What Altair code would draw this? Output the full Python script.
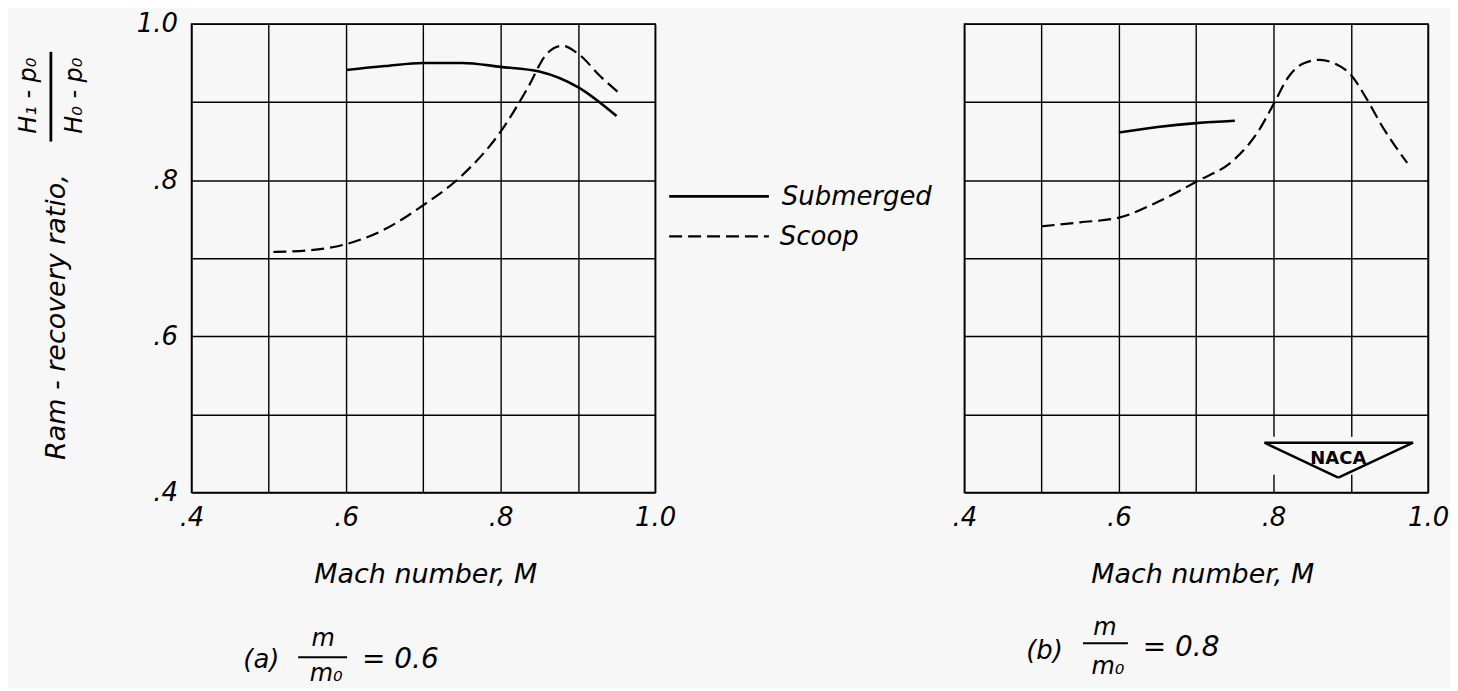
import altair as alt
import pandas as pd

FONT = "DejaVu Sans"
BG = "#f7f7f7"

# ---------------- data ----------------
series_names = ["Submerged", "Scoop"]
x_title = "Mach number, M"
y_title = "Ram - recovery  ratio,"
grid_values = [0.4, 0.5, 0.6, 0.7, 0.8, 0.9, 1.0]

# (a) m/m0 = 0.6
sub_a_mach = [0.60, 0.65, 0.70, 0.75, 0.80, 0.85, 0.90, 0.95]
sub_a_ratio = [0.941, 0.946, 0.950, 0.950, 0.945, 0.939, 0.919, 0.882]
scp_a_mach = [0.506, 0.55, 0.60, 0.65, 0.70, 0.75, 0.80, 0.835, 0.86, 0.88, 0.90, 0.93, 0.955]
scp_a_ratio = [0.708, 0.710, 0.718, 0.737, 0.768, 0.806, 0.862, 0.918, 0.962, 0.972, 0.962, 0.932, 0.910]

# (b) m/m0 = 0.8
sub_b_mach = [0.60, 0.65, 0.70, 0.75]
sub_b_ratio = [0.861, 0.868, 0.873, 0.876]
scp_b_mach = [0.50, 0.55, 0.60, 0.65, 0.70, 0.75, 0.78, 0.80, 0.82, 0.84, 0.86, 0.88, 0.90, 0.92, 0.94, 0.973]
scp_b_ratio = [0.741, 0.746, 0.752, 0.772, 0.798, 0.827, 0.862, 0.897, 0.933, 0.950, 0.954, 0.949, 0.935, 0.905, 0.870, 0.822]

PW, PH = 465, 470
DASH = [13, 6]

LABEL_EXPR = ("round(datum.value*10) % 2 == 0 ? "
              "replace(format(datum.value, '.1f'), '0.', '.') : ''")


def txt(text, x, y, size=26, angle=0, align="left", style="italic", weight="normal"):
    return alt.Chart(pd.DataFrame({"t": [text]})).mark_text(
        font=FONT, fontStyle=style, fontWeight=weight, fontSize=size,
        align=align, baseline="middle", angle=angle, color="black"
    ).encode(x=alt.value(x), y=alt.value(y), text="t:N")


def rule(x1, y1, x2, y2, width=2.0, dash=None, opacity=1.0):
    kw = dict(color="black", strokeWidth=width, strokeOpacity=opacity)
    if dash:
        kw["strokeDash"] = dash
    return alt.Chart(pd.DataFrame({"a": [0]})).mark_rule(**kw).encode(
        x=alt.value(x1), x2=alt.value(x2), y=alt.value(y1), y2=alt.value(y2))


def rect(x1, y1, x2, y2, color=BG):
    return alt.Chart(pd.DataFrame({"a": [0]})).mark_rect(color=color).encode(
        x=alt.value(x1), x2=alt.value(x2), y=alt.value(y1), y2=alt.value(y2))


def panel(sub_x, sub_y, scp_x, scp_y, show_y):
    xs = alt.Scale(domain=[0.4, 1.0], nice=False, zero=False)
    ys = alt.Scale(domain=[0.4, 1.0], nice=False, zero=False)
    xa = alt.Axis(values=grid_values, labelExpr=LABEL_EXPR, title=None,
                  labelPadding=12, labelFlush=False, labelOverlap=False,
                  labelBound=False)
    ya = alt.Axis(values=grid_values, labelExpr=LABEL_EXPR, title=None,
                  labelPadding=14, labels=show_y, labelFlush=False,
                  labelOverlap=False, labelBound=False)
    d_sub = pd.DataFrame({"mach": sub_x, "ratio": sub_y, "series": series_names[0]})
    d_scp = pd.DataFrame({"mach": scp_x, "ratio": scp_y, "series": series_names[1]})
    l_sub = alt.Chart(d_sub).mark_line(
        color="black", strokeWidth=2.6, interpolate="monotone"
    ).encode(x=alt.X("mach:Q", scale=xs, axis=xa), y=alt.Y("ratio:Q", scale=ys, axis=ya))
    l_scp = alt.Chart(d_scp).mark_line(
        color="black", strokeWidth=2.2, strokeDash=DASH, interpolate="monotone"
    ).encode(x=alt.X("mach:Q", scale=xs, axis=xa), y=alt.Y("ratio:Q", scale=ys, axis=ya))
    return [l_sub, l_scp]


# ---------------- left panel (a) ----------------
left_layers = panel(sub_a_mach, sub_a_ratio, scp_a_mach, scp_a_ratio, True)
left_layers += [
    # layout anchor (top-left corner of the figure)
    rule(-183, -14, -183, -14, width=0.5, opacity=0),
    # y-axis title with the fraction
    txt(y_title, -135, 294, size=27, angle=270, align="center"),
    txt("H₁ - p₀", -163, 72, size=24, angle=270, align="center"),
    rule(-141, 28, -141, 118, width=2.8),
    txt("H₀ - p₀", -117, 72, size=24, angle=270, align="center"),
    # x title
    txt(x_title, 235, 553, size=27, align="center"),
    # legend
    rule(479, 173, 579, 173, width=2.6),
    txt(series_names[0], 592, 174, size=26),
    rule(479, 213, 579, 213, width=2.2, dash=DASH),
    txt(series_names[1], 590, 214, size=26),
    # caption (a)
    txt("(a)", 52, 638, size=26),
    txt("m", 132, 617, size=24, align="center"),
    rule(107, 635, 156, 635, width=2),
    txt("m₀", 135, 652, size=24, align="center"),
    txt("= 0.6", 171, 638, size=28),
]
left = alt.layer(*left_layers).properties(width=PW, height=PH)

# ---------------- right panel (b) ----------------
right_layers = panel(sub_b_mach, sub_b_ratio, scp_b_mach, scp_b_ratio, False)
right_layers += [
    txt(x_title, 239, 553, size=27, align="center"),
    txt("(b)", 62, 629, size=26),
    txt("m", 141, 606, size=24, align="center"),
    rule(119, 621, 164, 621, width=2),
    txt("m₀", 144, 645, size=24, align="center"),
    txt("= 0.8", 179, 626, size=28),
    # NACA emblem
    rect(299, 414, 452, 452),
    rule(301, 420, 450, 420, width=2.5),
    rule(301, 420, 375, 455, width=2.5),
    rule(450, 420, 375, 455, width=2.5),
    txt("NACA", 375, 436, size=18, style="normal", weight="bold", align="center"),
]
right = alt.layer(*right_layers).properties(width=PW, height=PH)

chart = alt.hconcat(left, right, spacing=310, bounds="flush").properties(
    padding=0, background=BG
).configure_view(
    stroke="black", strokeWidth=1.5
).configure_axis(
    grid=True, gridColor="black", gridWidth=1.4, gridOpacity=1,
    domain=False, ticks=False,
    labelFont=FONT, labelFontStyle="italic", labelFontSize=26, labelColor="black"
)

chart.save("out.html", embed_options={"renderer": "svg", "actions": False})
